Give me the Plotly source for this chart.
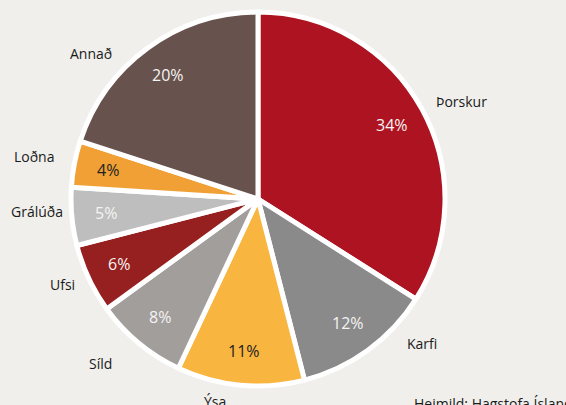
import numpy as np
import plotly.graph_objects as go

# Afli eftir tegundum (hlutfall af heild)
tegundir = ["Þorskur", "Karfi", "Ýsa", "Síld", "Ufsi", "Grálúða", "Loðna", "Annað"]
hlutfall = [34, 12, 11, 8, 6, 5, 4, 20]
litir = ["#ae1321", "#8a8a8a", "#f8b53f", "#a29e9c", "#96201f", "#bebebe", "#f0a035", "#67524d"]
texti_litir = ["#f4f4f4", "#f4f4f4", "#222222", "#f4f4f4", "#f4f4f4", "#f4f4f4", "#222222", "#f4f4f4"]

W, H = 566, 405
cx, cy, R = 258, 199, 187  # pie centre and radius in pixels

# where the category names sit (pixels, from the reference)
nafn_stadir = [(461, 102), (422, 343), (215, 401), (100, 363),
               (62, 284), (37, 211), (34, 156), (91, 53)]

fig = go.Figure(go.Pie(
    labels=tegundir,
    values=hlutfall,
    sort=False,
    direction="clockwise",
    rotation=0,
    marker=dict(colors=litir, line=dict(color="white", width=5)),
    textinfo="none",
    showlegend=False,
    domain=dict(x=[(cx - R) / W, (cx + R) / W], y=[1 - (cy + R) / H, 1 - (cy - R) / H]),
))

# percent labels at the middle angle of each slice
total = sum(hlutfall)
cum = np.cumsum([0] + hlutfall)
annotations = []
for i, v in enumerate(hlutfall):
    mid = (cum[i] + v / 2) / total * 2 * np.pi
    r = 0.83 * (R - 2.5)
    px = cx + r * np.sin(mid)
    py = cy - r * np.cos(mid)
    annotations.append(dict(
        x=px / W, y=1 - py / H, xref="paper", yref="paper",
        text=f"{v}%", showarrow=False, xanchor="center", yanchor="middle",
        font=dict(family="Open Sans", size=16, color=texti_litir[i]),
    ))

for name, (px, py) in zip(tegundir, nafn_stadir):
    annotations.append(dict(
        x=px / W, y=1 - py / H, xref="paper", yref="paper",
        text=name, showarrow=False, xanchor="center", yanchor="middle",
        font=dict(family="Open Sans", size=14, color="#1a1a1a"),
    ))

annotations.append(dict(
    x=412 / W, y=1 - 392 / H, xref="paper", yref="paper",
    text="Heimild: Hagstofa Íslands", showarrow=False, xanchor="left", yanchor="top",
    font=dict(family="Open Sans", size=14, color="#1a1a1a"),
))

fig.update_layout(
    width=W, height=H,
    margin=dict(l=0, r=0, t=0, b=0),
    paper_bgcolor="#f0efec",
    plot_bgcolor="#f0efec",
    annotations=annotations,
)

fig.write_html("out.html", config={"displayModeBar": False},
               post_script="document.body.style.margin='0';")
